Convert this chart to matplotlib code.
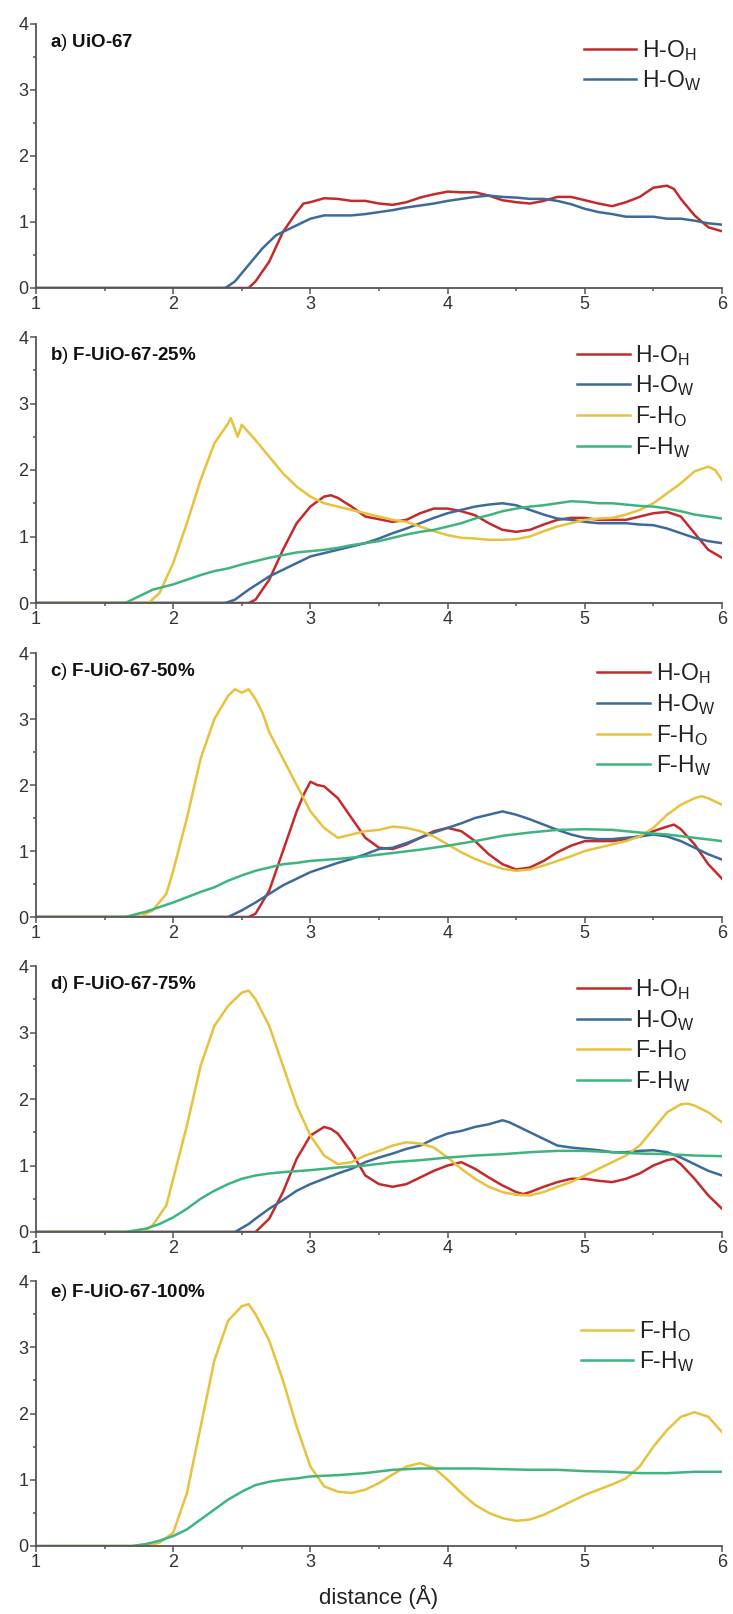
import numpy as np
import matplotlib.pyplot as plt
from matplotlib.ticker import MultipleLocator

plt.rcParams['font.family'] = ['Liberation Sans', 'DejaVu Sans']
plt.rcParams['mathtext.fontset'] = 'custom'
plt.rcParams['mathtext.rm'] = 'Liberation Sans'
plt.rcParams['mathtext.default'] = 'rm'

RED = '#c42a2c'
BLUE = '#3d6b99'
YELLOW = '#e8c13d'
GREEN = '#3fb480'

# ---- a) UiO-67 ----
a_hoh_x = [1.0, 2.55, 2.6, 2.7, 2.8, 2.9, 2.95, 3.0, 3.1, 3.2, 3.3, 3.4, 3.5, 3.6, 3.7, 3.8, 3.9, 4.0,
           4.1, 4.2, 4.3, 4.4, 4.5, 4.6, 4.7, 4.8, 4.9, 5.0, 5.1, 5.2, 5.3, 5.4, 5.5, 5.6, 5.65, 5.7,
           5.8, 5.9, 6.0]
a_hoh_y = [0, 0, 0.1, 0.4, 0.85, 1.15, 1.28, 1.3, 1.36, 1.35, 1.32, 1.32, 1.28, 1.26, 1.3, 1.37, 1.42,
           1.46, 1.45, 1.45, 1.4, 1.33, 1.3, 1.28, 1.32, 1.38, 1.38, 1.33, 1.28, 1.24, 1.3, 1.38, 1.52,
           1.55, 1.5, 1.35, 1.1, 0.92, 0.86]
a_how_x = [1.0, 2.38, 2.45, 2.55, 2.65, 2.75, 2.85, 2.95, 3.0, 3.1, 3.2, 3.3, 3.4, 3.5, 3.6, 3.7, 3.8,
           3.9, 4.0, 4.1, 4.2, 4.3, 4.4, 4.5, 4.6, 4.7, 4.8, 4.9, 5.0, 5.1, 5.2, 5.3, 5.4, 5.5, 5.6,
           5.7, 5.8, 5.9, 6.0]
a_how_y = [0, 0, 0.1, 0.35, 0.6, 0.8, 0.9, 1.0, 1.05, 1.1, 1.1, 1.1, 1.12, 1.15, 1.18, 1.22, 1.25,
           1.28, 1.32, 1.35, 1.38, 1.4, 1.38, 1.37, 1.35, 1.35, 1.32, 1.27, 1.2, 1.15, 1.12, 1.08,
           1.08, 1.08, 1.05, 1.05, 1.02, 0.98, 0.96]

# ---- b) F-UiO-67-25% ----
b_hoh_x = [1.0, 2.55, 2.6, 2.7, 2.8, 2.9, 3.0, 3.1, 3.15, 3.2, 3.3, 3.4, 3.5, 3.6, 3.7, 3.8, 3.9, 4.0,
           4.1, 4.2, 4.3, 4.4, 4.5, 4.6, 4.7, 4.8, 4.9, 5.0, 5.1, 5.2, 5.3, 5.4, 5.5, 5.6, 5.7, 5.8,
           5.9, 6.0]
b_hoh_y = [0, 0, 0.05, 0.35, 0.8, 1.2, 1.45, 1.6, 1.62, 1.58, 1.45, 1.3, 1.26, 1.22, 1.25, 1.35, 1.42,
           1.42, 1.38, 1.32, 1.2, 1.1, 1.07, 1.1, 1.18, 1.25, 1.28, 1.28, 1.25, 1.25, 1.25, 1.3, 1.35,
           1.37, 1.3, 1.05, 0.8, 0.68]
b_how_x = [1.0, 2.38, 2.45, 2.55, 2.7, 2.8, 2.9, 3.0, 3.1, 3.2, 3.3, 3.4, 3.5, 3.6, 3.7, 3.8, 3.9, 4.0,
           4.1, 4.2, 4.3, 4.4, 4.5, 4.6, 4.7, 4.8, 4.9, 5.0, 5.1, 5.2, 5.3, 5.4, 5.5, 5.6, 5.7, 5.8,
           5.9, 6.0]
b_how_y = [0, 0, 0.05, 0.2, 0.4, 0.5, 0.6, 0.7, 0.75, 0.8, 0.85, 0.9, 0.97, 1.05, 1.12, 1.2, 1.28,
           1.35, 1.4, 1.45, 1.48, 1.5, 1.47, 1.4, 1.33, 1.27, 1.25, 1.22, 1.2, 1.2, 1.2, 1.18, 1.17,
           1.12, 1.05, 0.98, 0.93, 0.9]
b_fho_x = [1.0, 1.82, 1.9, 2.0, 2.1, 2.2, 2.3, 2.4, 2.42, 2.47, 2.5, 2.6, 2.7, 2.8, 2.9, 3.0, 3.1, 3.2,
           3.3, 3.4, 3.5, 3.6, 3.7, 3.8, 3.9, 4.0, 4.1, 4.2, 4.3, 4.4, 4.5, 4.6, 4.7, 4.8, 4.9, 5.0,
           5.1, 5.2, 5.3, 5.4, 5.5, 5.6, 5.7, 5.8, 5.9, 5.95, 6.0]
b_fho_y = [0, 0, 0.15, 0.6, 1.2, 1.85, 2.4, 2.7, 2.78, 2.5, 2.68, 2.45, 2.2, 1.95, 1.75, 1.6, 1.5,
           1.45, 1.4, 1.35, 1.3, 1.25, 1.22, 1.15, 1.08, 1.02, 0.98, 0.97, 0.95, 0.95, 0.96, 1.0,
           1.08, 1.15, 1.2, 1.25, 1.27, 1.28, 1.33, 1.4, 1.5, 1.65, 1.8, 1.98, 2.05, 2.0, 1.85]
b_fhw_x = [1.0, 1.65, 1.75, 1.85, 2.0, 2.1, 2.2, 2.3, 2.4, 2.5, 2.6, 2.7, 2.8, 2.9, 3.0, 3.1, 3.2, 3.3,
           3.4, 3.5, 3.6, 3.7, 3.8, 3.9, 4.0, 4.1, 4.2, 4.3, 4.4, 4.5, 4.6, 4.7, 4.8, 4.9, 5.0, 5.1,
           5.2, 5.3, 5.4, 5.5, 5.6, 5.7, 5.8, 5.9, 6.0]
b_fhw_y = [0, 0, 0.1, 0.2, 0.28, 0.35, 0.42, 0.48, 0.52, 0.58, 0.63, 0.68, 0.72, 0.76, 0.78, 0.8,
           0.83, 0.87, 0.9, 0.93, 0.98, 1.03, 1.07, 1.1, 1.15, 1.2, 1.27, 1.32, 1.38, 1.42, 1.45,
           1.47, 1.5, 1.53, 1.52, 1.5, 1.5, 1.48, 1.46, 1.45, 1.42, 1.38, 1.33, 1.3, 1.27]

# ---- c) F-UiO-67-50% ----
c_hoh_x = [1.0, 2.55, 2.6, 2.7, 2.8, 2.9, 2.95, 3.0, 3.05, 3.1, 3.2, 3.3, 3.4, 3.5, 3.6, 3.7, 3.8,
           3.9, 4.0, 4.1, 4.2, 4.3, 4.4, 4.5, 4.6, 4.7, 4.8, 4.9, 5.0, 5.1, 5.2, 5.3, 5.4, 5.5, 5.6,
           5.65, 5.7, 5.8, 5.9, 6.0]
c_hoh_y = [0, 0, 0.05, 0.4, 1.0, 1.6, 1.85, 2.05, 2.0, 1.98, 1.8, 1.5, 1.2, 1.05, 1.03, 1.1, 1.2,
           1.3, 1.35, 1.3, 1.15, 0.95, 0.8, 0.72, 0.75, 0.85, 0.98, 1.08, 1.15, 1.15, 1.15, 1.18,
           1.22, 1.3, 1.37, 1.4, 1.33, 1.1, 0.8, 0.58]
c_how_x = [1.0, 2.4, 2.5, 2.6, 2.7, 2.8, 2.9, 3.0, 3.1, 3.2, 3.3, 3.4, 3.5, 3.6, 3.7, 3.8, 3.9, 4.0,
           4.1, 4.2, 4.3, 4.4, 4.5, 4.6, 4.7, 4.8, 4.9, 5.0, 5.1, 5.2, 5.3, 5.4, 5.5, 5.6, 5.7, 5.8,
           5.9, 6.0]
c_how_y = [0, 0, 0.1, 0.22, 0.35, 0.48, 0.58, 0.68, 0.75, 0.82, 0.88, 0.95, 1.03, 1.05, 1.12, 1.2,
           1.28, 1.35, 1.42, 1.5, 1.55, 1.6, 1.55, 1.48, 1.4, 1.32, 1.25, 1.2, 1.18, 1.18, 1.2,
           1.22, 1.25, 1.22, 1.15, 1.05, 0.95, 0.87]
c_fho_x = [1.0, 1.75, 1.85, 1.95, 2.0, 2.1, 2.2, 2.3, 2.4, 2.45, 2.5, 2.55, 2.6, 2.65, 2.7, 2.8, 2.9,
           3.0, 3.1, 3.2, 3.3, 3.4, 3.5, 3.6, 3.7, 3.8, 3.9, 4.0, 4.1, 4.2, 4.3, 4.4, 4.5, 4.6, 4.7,
           4.8, 4.9, 5.0, 5.1, 5.2, 5.3, 5.4, 5.5, 5.6, 5.7, 5.8, 5.85, 5.9, 6.0]
c_fho_y = [0, 0, 0.1, 0.35, 0.7, 1.5, 2.4, 3.0, 3.35, 3.45, 3.4, 3.45, 3.3, 3.1, 2.8, 2.4, 2.0, 1.6,
           1.35, 1.2, 1.25, 1.3, 1.32, 1.37, 1.35, 1.3, 1.22, 1.1, 0.98, 0.88, 0.8, 0.73, 0.7, 0.72,
           0.78, 0.85, 0.92, 1.0, 1.05, 1.1, 1.15, 1.22, 1.35, 1.55, 1.7, 1.8, 1.83, 1.8, 1.7]
c_fhw_x = [1.0, 1.65, 1.8, 1.9, 2.0, 2.1, 2.2, 2.3, 2.4, 2.5, 2.6, 2.7, 2.8, 2.9, 3.0, 3.2, 3.4, 3.6,
           3.8, 4.0, 4.2, 4.4, 4.6, 4.8, 5.0, 5.2, 5.4, 5.6, 5.8, 6.0]
c_fhw_y = [0, 0, 0.08, 0.15, 0.22, 0.3, 0.38, 0.45, 0.55, 0.63, 0.7, 0.75, 0.8, 0.82, 0.85, 0.88,
           0.92, 0.97, 1.02, 1.08, 1.15, 1.23, 1.28, 1.32, 1.33, 1.32, 1.28, 1.25, 1.2, 1.15]

# ---- d) F-UiO-67-75% ----
d_hoh_x = [1.0, 2.6, 2.7, 2.8, 2.9, 3.0, 3.1, 3.15, 3.2, 3.3, 3.4, 3.5, 3.6, 3.7, 3.8, 3.9, 4.0, 4.1,
           4.2, 4.3, 4.4, 4.5, 4.55, 4.6, 4.7, 4.8, 4.9, 5.0, 5.1, 5.2, 5.3, 5.4, 5.5, 5.6, 5.65,
           5.7, 5.8, 5.9, 6.0]
d_hoh_y = [0, 0, 0.2, 0.6, 1.1, 1.45, 1.58, 1.55, 1.48, 1.2, 0.85, 0.72, 0.68, 0.72, 0.82, 0.92,
           1.0, 1.05, 0.95, 0.82, 0.7, 0.6, 0.57, 0.6, 0.68, 0.75, 0.8, 0.8, 0.77, 0.75, 0.8, 0.88,
           1.0, 1.08, 1.1, 1.02, 0.8, 0.55, 0.35]
d_how_x = [1.0, 2.45, 2.55, 2.6, 2.7, 2.8, 2.9, 3.0, 3.1, 3.2, 3.3, 3.4, 3.5, 3.6, 3.7, 3.8, 3.9, 4.0,
           4.1, 4.2, 4.3, 4.4, 4.45, 4.5, 4.6, 4.7, 4.8, 4.9, 5.0, 5.1, 5.2, 5.3, 5.4, 5.5, 5.6, 5.7,
           5.8, 5.9, 6.0]
d_how_y = [0, 0, 0.12, 0.2, 0.35, 0.48, 0.62, 0.72, 0.8, 0.88, 0.95, 1.05, 1.12, 1.18, 1.25, 1.3,
           1.4, 1.48, 1.52, 1.58, 1.62, 1.68, 1.65, 1.6, 1.5, 1.4, 1.3, 1.27, 1.25, 1.23, 1.2, 1.2,
           1.22, 1.23, 1.2, 1.12, 1.02, 0.92, 0.85]
d_fho_x = [1.0, 1.78, 1.85, 1.95, 2.0, 2.1, 2.2, 2.3, 2.4, 2.5, 2.55, 2.6, 2.7, 2.8, 2.9, 3.0, 3.1,
           3.2, 3.3, 3.4, 3.5, 3.6, 3.7, 3.8, 3.9, 4.0, 4.1, 4.2, 4.3, 4.4, 4.5, 4.6, 4.7, 4.8, 4.9,
           5.0, 5.1, 5.2, 5.3, 5.4, 5.5, 5.6, 5.7, 5.75, 5.8, 5.9, 6.0]
d_fho_y = [0, 0, 0.1, 0.4, 0.8, 1.6, 2.5, 3.1, 3.4, 3.6, 3.63, 3.5, 3.1, 2.5, 1.9, 1.45, 1.15, 1.02,
           1.05, 1.15, 1.22, 1.3, 1.35, 1.33, 1.27, 1.12, 0.95, 0.8, 0.68, 0.6, 0.56, 0.55, 0.6,
           0.68, 0.75, 0.85, 0.95, 1.05, 1.15, 1.3, 1.55, 1.8, 1.92, 1.93, 1.9, 1.8, 1.65]
d_fhw_x = [1.0, 1.65, 1.8, 1.9, 2.0, 2.1, 2.2, 2.3, 2.4, 2.5, 2.6, 2.7, 2.8, 3.0, 3.2, 3.4, 3.6, 3.8,
           4.0, 4.2, 4.4, 4.6, 4.8, 5.0, 5.2, 5.4, 5.6, 5.8, 6.0]
d_fhw_y = [0, 0, 0.05, 0.12, 0.22, 0.35, 0.5, 0.62, 0.72, 0.8, 0.85, 0.88, 0.9, 0.93, 0.97, 1.0,
           1.05, 1.08, 1.12, 1.15, 1.17, 1.2, 1.22, 1.22, 1.2, 1.18, 1.17, 1.15, 1.14]

# ---- e) F-UiO-67-100% ----
e_fho_x = [1.0, 1.8, 1.9, 2.0, 2.1, 2.2, 2.3, 2.4, 2.5, 2.55, 2.6, 2.7, 2.8, 2.9, 3.0, 3.1, 3.2, 3.3,
           3.4, 3.5, 3.6, 3.7, 3.8, 3.9, 4.0, 4.1, 4.2, 4.3, 4.4, 4.5, 4.6, 4.7, 4.8, 4.9, 5.0, 5.1,
           5.2, 5.3, 5.4, 5.5, 5.6, 5.7, 5.8, 5.9, 6.0]
e_fho_y = [0, 0, 0.05, 0.2, 0.8, 1.8, 2.8, 3.4, 3.62, 3.65, 3.5, 3.1, 2.5, 1.8, 1.2, 0.9, 0.82, 0.8,
           0.85, 0.95, 1.08, 1.2, 1.25, 1.18, 1.0, 0.8, 0.62, 0.5, 0.42, 0.38, 0.4, 0.47, 0.57,
           0.67, 0.77, 0.85, 0.93, 1.02, 1.2, 1.5, 1.75, 1.95, 2.02, 1.95, 1.72]
e_fhw_x = [1.0, 1.7, 1.8, 1.9, 2.0, 2.1, 2.2, 2.3, 2.4, 2.5, 2.6, 2.7, 2.8, 2.9, 3.0, 3.2, 3.4, 3.6,
           3.8, 4.0, 4.2, 4.4, 4.6, 4.8, 5.0, 5.2, 5.4, 5.6, 5.8, 6.0]
e_fhw_y = [0, 0, 0.03, 0.08, 0.15, 0.25, 0.4, 0.55, 0.7, 0.82, 0.92, 0.97, 1.0, 1.02, 1.05, 1.07,
           1.1, 1.15, 1.17, 1.17, 1.17, 1.16, 1.15, 1.15, 1.13, 1.12, 1.1, 1.1, 1.12, 1.12]

# grouped nucleus so mathtext drops the subscript a little further
lab_hoh = r'H-${O}_{H}$'
lab_how = r'H-${O}_{W}$'
lab_fho = r'F-${H}_{O}$'
lab_fhw = r'F-${H}_{W}$'

panels = [
    ('a', 'UiO-67', [(a_hoh_x, a_hoh_y, RED, lab_hoh), (a_how_x, a_how_y, BLUE, lab_how)]),
    ('b', 'F-UiO-67-25%', [(b_hoh_x, b_hoh_y, RED, lab_hoh), (b_how_x, b_how_y, BLUE, lab_how),
                           (b_fho_x, b_fho_y, YELLOW, lab_fho), (b_fhw_x, b_fhw_y, GREEN, lab_fhw)]),
    ('c', 'F-UiO-67-50%', [(c_hoh_x, c_hoh_y, RED, lab_hoh), (c_how_x, c_how_y, BLUE, lab_how),
                           (c_fho_x, c_fho_y, YELLOW, lab_fho), (c_fhw_x, c_fhw_y, GREEN, lab_fhw)]),
    ('d', 'F-UiO-67-75%', [(d_hoh_x, d_hoh_y, RED, lab_hoh), (d_how_x, d_how_y, BLUE, lab_how),
                           (d_fho_x, d_fho_y, YELLOW, lab_fho), (d_fhw_x, d_fhw_y, GREEN, lab_fhw)]),
    ('e', 'F-UiO-67-100%', [(e_fho_x, e_fho_y, YELLOW, lab_fho), (e_fhw_x, e_fhw_y, GREEN, lab_fhw)]),
]

# axes boxes in pixels (top of y=4, bottom at y=0)
W, H = 733, 1614
tops = [24, 337, 653, 966, 1281]
bottoms = [288, 603, 917, 1232, 1546]
legend_anchor = [(0.99, 1.0), (0.98, 1.03), (1.01, 1.02), (0.98, 1.01), (0.98, 0.91)]
title_y = [0.93, 0.93, 0.93, 0.93, 0.955]
x_left, x_right = 36, 722
narrow = ['Liberation Sans Narrow', 'Liberation Sans', 'DejaVu Sans']

fig = plt.figure(figsize=(W / 100, H / 100), dpi=100)
axc = '#555555'
for i, (letter, name, curves) in enumerate(panels):
    ax = fig.add_axes([x_left / W, 1 - bottoms[i] / H, (x_right - x_left) / W, (bottoms[i] - tops[i]) / H])
    for xs, ys, col, lab in curves:
        ax.plot(xs, ys, color=col, lw=1.8, label=lab)
    ax.set_xlim(1, 6)
    ax.set_ylim(0, 4)
    ax.xaxis.set_major_locator(MultipleLocator(1))
    ax.xaxis.set_minor_locator(MultipleLocator(0.5))
    ax.yaxis.set_major_locator(MultipleLocator(1))
    ax.yaxis.set_minor_locator(MultipleLocator(0.5))
    for s in ['top', 'right']:
        ax.spines[s].set_visible(False)
    for s in ['left', 'bottom']:
        ax.spines[s].set_color(axc)
        ax.spines[s].set_linewidth(1.3)
    ax.tick_params(which='major', direction='out', length=4, width=1.1, color=axc,
                   labelsize=13, labelcolor='#333333', pad=1.5)
    ax.tick_params(which='minor', direction='out', length=2, width=1.1, color=axc)
    for t in ax.get_xticklabels() + ax.get_yticklabels():
        t.set_family(narrow)
    # panel letter bold, closing paren in regular weight like the original
    ax.text(0.02, title_y[i], letter + r'$\mathrm{)}$ ' + name, transform=ax.transAxes,
            fontsize=13.5, fontweight='bold', color='#111111', va='center', ha='left')
    leg = ax.legend(loc='upper right', bbox_to_anchor=legend_anchor[i], frameon=False,
                    fontsize=16.5, handlelength=2.3, handletextpad=0.25, labelspacing=0.25,
                    borderaxespad=0.2)
    for t in leg.get_texts():
        t.set_color('#222222')
    if i == len(panels) - 1:
        ax.set_xlabel('distance (Å)', fontsize=16, color='#222222', labelpad=10, family=narrow)

fig.savefig('out.png', dpi=100)
